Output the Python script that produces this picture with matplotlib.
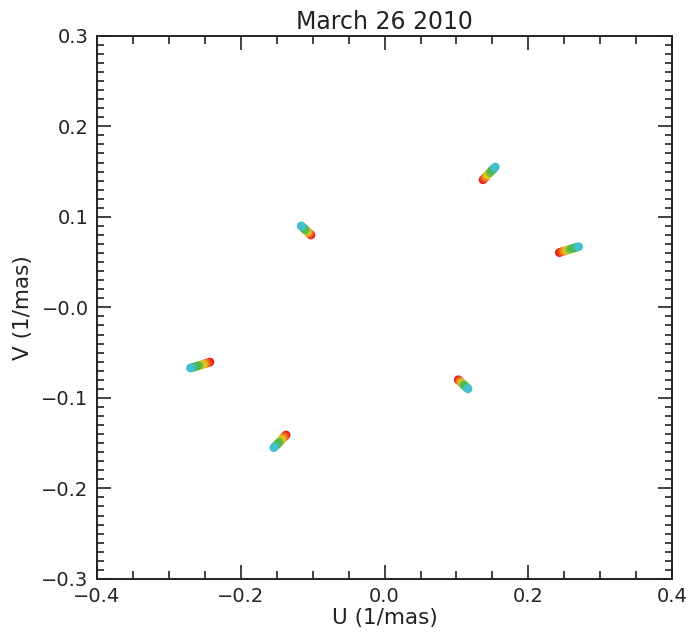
import numpy as np
import matplotlib.pyplot as plt
from matplotlib.colors import LinearSegmentedColormap
from matplotlib.ticker import MultipleLocator

# uv tracks for the three baselines (conjugates drawn as -u, -v)
hours = [0.0, 1.0, 2.0, 3.0, 4.0, 5.0, 6.0, 7.0, 8.0, 9.0]

A_u = [0.137, 0.1389, 0.1408, 0.1427, 0.1446, 0.1465, 0.1484, 0.1503, 0.1522, 0.1540]
A_v = [0.141, 0.1426, 0.1442, 0.1458, 0.1474, 0.1490, 0.1506, 0.1521, 0.1536, 0.1550]
B_u = [0.243, 0.2460, 0.2490, 0.2520, 0.2550, 0.2580, 0.2610, 0.2640, 0.2670, 0.2700]
B_v = [0.0605, 0.0613, 0.0620, 0.0628, 0.0635, 0.0643, 0.0650, 0.0657, 0.0664, 0.0670]
C_u = [-0.1025, -0.1040, -0.1055, -0.1070, -0.1085, -0.1100, -0.1115, -0.1130, -0.1145, -0.1160]
C_v = [0.0800, 0.0811, 0.0822, 0.0833, 0.0844, 0.0856, 0.0867, 0.0878, 0.0889, 0.0900]

tracks = [(A_u, A_v), (B_u, B_v), (C_u, C_v)]

x_ticks = [-0.4, -0.2, 0.0, 0.2, 0.4]
x_tick_labels = ["\u22120.4", "\u22120.2", "0.0", "0.2", "0.4"]
y_ticks = [-0.3, -0.2, -0.1, 0.0, 0.1, 0.2, 0.3]
y_tick_labels = ["\u22120.3", "\u22120.2", "\u22120.1", "\u22120.0", "0.1", "0.2", "0.3"]

cmap = LinearSegmentedColormap.from_list(
    "track", ["#ec1c1c", "#f0701e", "#e8d21e", "#5cb846", "#4bb850", "#44c0cc"])

plt.rcParams["font.family"] = "DejaVu Sans"
fig = plt.figure(figsize=(6.88, 6.40), dpi=100)
ax = fig.add_axes([0.141, 0.0955, 0.836, 0.8485])

for u, v in tracks:
    u = np.array(u)
    v = np.array(v)
    for sgn in (1, -1):
        ax.scatter(sgn * u, sgn * v, c=hours, cmap=cmap, vmin=hours[0], vmax=hours[-1],
                   s=40, marker="o", linewidths=0, zorder=3)

ax.set_xlim(-0.4, 0.4)
ax.set_ylim(-0.3, 0.3)
ax.set_xticks(x_ticks)
ax.set_xticklabels(x_tick_labels)
ax.set_yticks(y_ticks)
ax.set_yticklabels(y_tick_labels)
ax.xaxis.set_minor_locator(MultipleLocator(0.05))
ax.yaxis.set_minor_locator(MultipleLocator(0.01))

ax.tick_params(which="both", direction="in", top=True, right=True, colors="#222222",
               width=1.2, labelsize=14)
ax.tick_params(which="major", length=10, pad=6)
ax.tick_params(which="minor", length=5)
ax.tick_params(axis="x", which="minor", length=6)
for sp in ax.spines.values():
    sp.set_linewidth(1.4)
    sp.set_color("#222222")

ax.set_xlabel("U (1/mas)", fontsize=15.5, color="#222222", labelpad=1)
ax.set_ylabel("V (1/mas)", fontsize=15.5, color="#222222", labelpad=6)
ax.set_title("March 26 2010", fontsize=17, color="#222222", pad=5)

fig.savefig("out.png", dpi=100)
